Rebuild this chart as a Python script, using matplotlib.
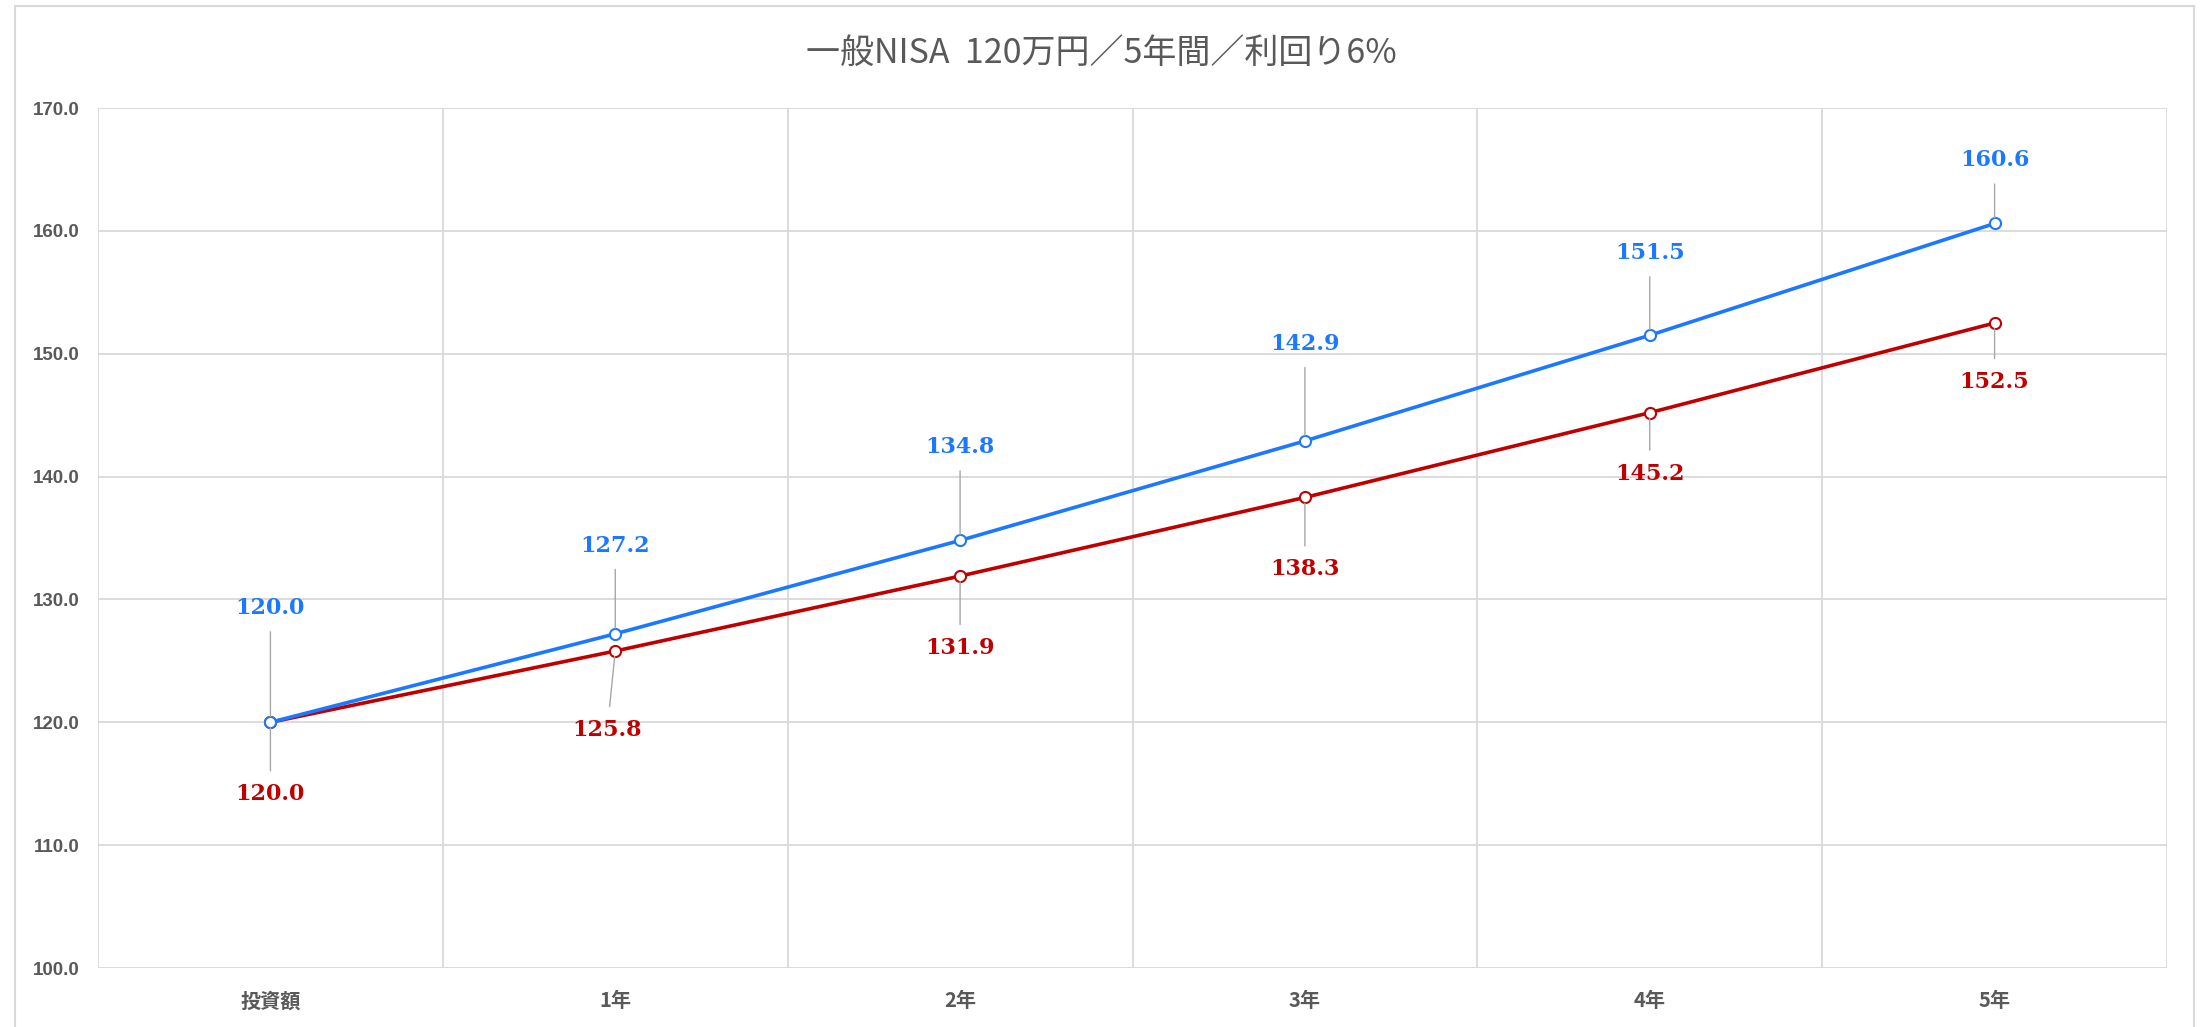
import matplotlib
matplotlib.use("Agg")
import matplotlib.pyplot as plt
from matplotlib.patches import Rectangle

# categories and simulated balances (万円)
categories = ["投資額", "1年", "2年", "3年", "4年", "5年"]
tax_free = [120.0, 127.2, 134.8, 142.9, 151.5, 160.6]
taxed = [120.0, 125.8, 131.9, 138.3, 145.2, 152.5]
y_ticks = [100, 110, 120, 130, 140, 150, 160, 170]

# label offsets in pixels (dx, dy) from each point
blue_offsets = [(0, 114), (0, 88), (0, 93), (0, 97), (0, 82), (0, 63)]
red_offsets = [(0, -72), (-8, -79), (0, -72), (0, -72), (0, -61), (0, -59)]

BLUE = "#1C78FF"
RED = "#C00000"
GRID = "#D9D9D9"
TEXT = "#595959"

plt.rcParams["font.family"] = ["Noto Sans CJK JP", "DejaVu Sans"]

fig = plt.figure(figsize=(22.03, 10.27), dpi=100)
W, H = 2203, 1027

# outer chart frame
fig.patches.append(Rectangle((15 / W, -0.01), (2194 - 15) / W, (1027 - 6) / H + 0.01,
                             transform=fig.transFigure, fill=False,
                             edgecolor="#D9D9D9", linewidth=1.5))

ax = fig.add_axes([98 / W, 1 - 968 / H, (2167 - 98) / W, (968 - 108) / H])

x = list(range(len(categories)))
ax.set_xlim(-0.5, len(categories) - 0.5)
ax.set_ylim(100, 170)

# grid: horizontal at each tick, vertical at category boundaries
for v in y_ticks:
    ax.axhline(v, color=GRID, lw=1.3, zorder=0)
for b in range(len(categories) + 1):
    ax.axvline(b - 0.5, color=GRID, lw=1.3, zorder=0)
for s in ax.spines.values():
    s.set_visible(False)

ax.plot(x, taxed, color=RED, lw=2.6, marker="o", ms=8, mfc="white",
        mec=RED, mew=1.5, zorder=3)
ax.plot(x, tax_free, color=BLUE, lw=2.6, marker="o", ms=8, mfc="white",
        mec=BLUE, mew=1.5, zorder=4)

label_style = dict(fontsize=16, fontweight="bold", family="DejaVu Serif",
                   ha="center", va="center", textcoords="offset pixels")
arrow_style = dict(arrowstyle="-", color="#A6A6A6", lw=1.0, shrinkA=7, shrinkB=4)

for xi, v, off in zip(x, tax_free, blue_offsets):
    ax.annotate(f"{v:.1f}", xy=(xi, v), xytext=off, color=BLUE,
                arrowprops=arrow_style, zorder=5, **label_style)
for xi, v, off in zip(x, taxed, red_offsets):
    ax.annotate(f"{v:.1f}", xy=(xi, v), xytext=off, color=RED,
                arrowprops=arrow_style, zorder=5, **label_style)

ax.set_yticks(y_ticks)
ax.set_yticklabels([f"{v:.1f}" for v in y_ticks], family="Liberation Sans",
                   fontweight="bold", fontsize=13.5, color=TEXT)
ax.set_xticks(x)
ax.set_xticklabels(categories, fontweight="bold", fontsize=14.5, color=TEXT)
ax.tick_params(axis="y", length=0, pad=13)
ax.tick_params(axis="x", length=0, pad=16)

fig.text(0.5, 1 - 53 / H, "一般NISA  120万円／5年間／利回り6%", ha="center",
         va="center", fontsize=24.5, color=TEXT)

fig.savefig("out.png", dpi=100)
